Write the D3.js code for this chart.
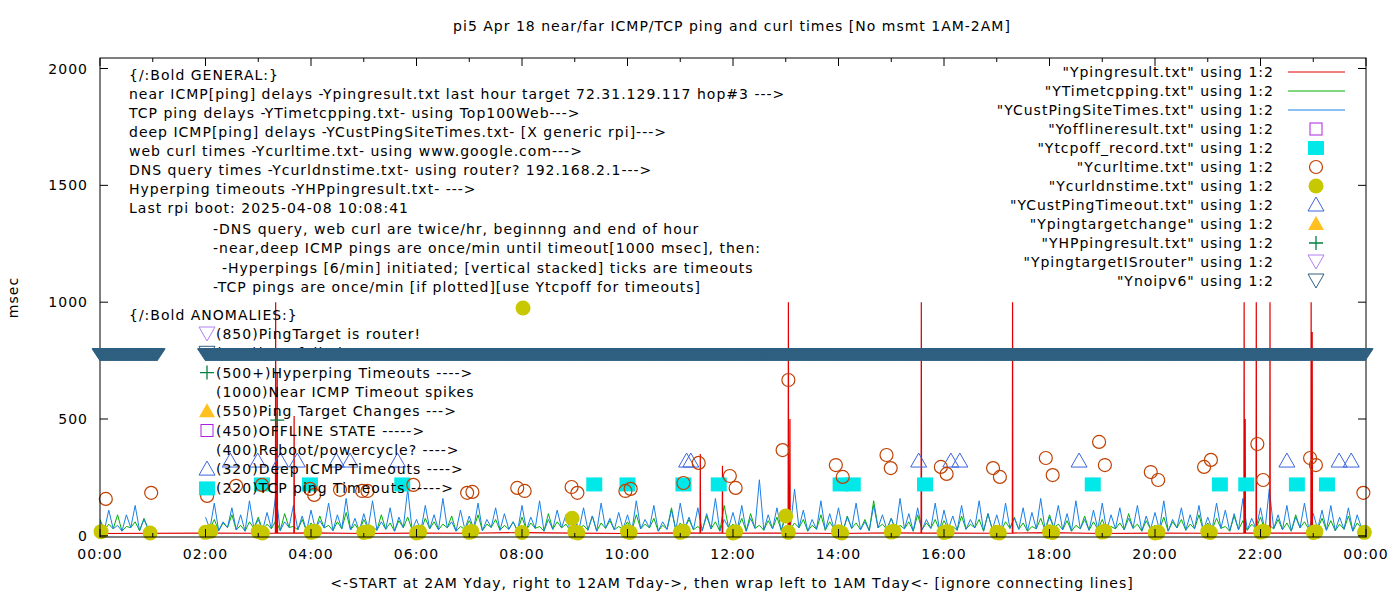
<!DOCTYPE html>
<html>
<head>
<meta charset="utf-8">
<script src="https://cdn.jsdelivr.net/npm/d3@7"></script>
<style>
  body { margin: 0; background: #fff; }
  text { font-family: "DejaVu Sans", sans-serif; font-size: 14px; letter-spacing: 1px; fill: #000; }
</style>
</head>
<body>
<div id="chart"></div>
<script>
// Data (hours of day, msec)
const blueVals = [
  60,110,45,90,130,70, null,null,null,null,null,null,
  80,140,60,120,90,150, 70,100,180,60,130,85,
  110,65,140,90,160,75, 95,150,60,120,80,200,
  70,130,90,160,60,110, 85,140,70,120,95,60,
  130,80,150,70,110,90, 60,120,85,140,75,100,
  90,150,70,130,60,110, 140,80,120,95,160,70,
  100,130,75,240,90,120, 85,200,110,70,150,95,
  120,80,140,60,130,90, 75,160,95,120,70,140,
  110,85,130,70,150,95, 90,140,75,120,100,160,
  80,130,95,150,70,110, 140,90,120,75,130,85,
  100,150,70,120,90,130, 80,140,110,95,160,75,
  120,200,90,130,80,140, 95,110,130,80,120,90
];
const blueLows = [
  25,30,20,35,22,28, null,null,null,null,null,null,
  30,22,35,25,20,32, 24,30,22,36,26,20,
  28,34,22,30,25,20, 32,24,28,20,35,26,
  22,30,26,34,20,28, 30,22,36,24,28,20,
  26,32,20,28,34,22, 30,24,20,32,26,28,
  22,30,34,20,28,24, 32,26,22,30,20,34,
  28,20,32,24,30,22, 26,34,20,28,24,30,
  20,32,26,22,34,28, 24,30,20,26,32,22,
  30,24,28,34,20,26, 22,32,28,20,30,24,
  34,26,20,30,24,28, 22,30,26,32,20,28,
  26,20,34,24,30,22, 28,32,20,26,24,30,
  22,30,26,20,34,28, 30,24,22,28,20,32
];
const greenVals = [
  70,50,90,40,60,75, null,null,null,null,null,null,
  40,70,55,90,45,60, 80,50,65,95,40,70,
  55,85,45,60,100,50, 70,40,90,55,65,80,
  45,75,60,50,85,40, 65,90,50,70,45,60,
  80,55,40,95,60,50, 70,45,85,55,65,40,
  60,90,50,75,45,120, 55,70,40,85,60,130,
  50,75,95,45,65,80, 100,55,70,45,90,60,
  40,85,55,70,150,50, 75,45,60,90,55,70,
  65,40,85,50,70,95, 45,60,80,55,40,75,
  90,50,65,45,85,60, 70,40,55,95,50,65,
  45,80,60,70,50,90, 55,75,40,85,65,50,
  80,45,70,55,90,60, 40,75,65,50,85,55
];
const redVals = [10,null,12,11,13,10,12,11,14,12,10,13,11,12,10,13,12,11,14,10,12,11,13,12];
const redSpikes = [
  [3.33, 1000], [3.36, 700], [3.68, 513], [11.38, 350], [11.8, 300],
  [13.05, 1000], [13.08, 500], [15.57, 1000], [17.3, 1000],
  [21.69, 1000], [21.71, 500], [21.92, 1000], [22.18, 1000],
  [22.96, 1000], [22.98, 872]
];
const curlTimes = [
  [0.11,158],[0.97,184],[2.03,171],[2.58,214],[3.07,218],[3.98,201],[4.06,175],
  [4.55,197],[4.97,192],[5.07,192],[5.94,218],[6.96,184],[7.06,188],[7.91,205],
  [8.05,192],[8.94,209],[9.05,184],[9.96,192],[10.06,201],[11.06,226],[11.35,312],
  [11.94,256],[12.05,205],[12.94,367],[13.05,667],[13.95,303],[14.08,252],[14.91,346],
  [14.99,290],[15.94,295],[16.05,265],[16.93,290],[17.06,252],[17.93,333],[18.06,260],
  [18.94,402],[19.05,303],[19.92,273],[20.06,239],[20.93,295],[21.06,325],[21.94,393],
  [22.05,239],[22.94,333],[23.05,303],[23.95,184]
];
const dnsTimes = [
  [0.02,18],[0.95,12],[2.0,15],[2.1,20],[3.0,18],[3.08,12],[4.0,15],[4.07,20],
  [5.0,14],[5.08,18],[6.0,12],[6.06,16],[7.0,15],[7.05,19],[8.0,14],[8.02,975],
  [8.95,75],[9.0,16],[9.06,12],[10.0,18],[10.05,14],[11.0,15],[11.06,20],[12.0,12],
  [12.05,17],[13.0,85],[13.05,15],[14.0,18],[14.06,12],[15.0,16],[15.05,20],[16.0,14],
  [16.06,18],[17.0,15],[17.05,12],[18.0,17],[18.06,14],[19.0,16],[19.05,20],[20.0,12],
  [20.06,15],[21.0,18],[21.05,14],[22.0,16],[22.06,20],[23.0,14],[23.05,18],[23.97,15]
];
const tcpOff = [3.07,3.98,5.73,9.37,10.0,11.06,11.73,14.04,14.27,15.64,18.82,21.23,21.73,22.69,23.26];
const tcpOffValue = 220;
const custTimeouts = [2.47,2.99,3.42,3.74,4.48,4.74,5.64,11.12,11.2,15.52,16.13,16.3,18.56,22.5,23.49,23.72];
const custTimeoutValue = 320;
const hyperping = [[3.36, 495]];
const noIpv6Ranges = [[0, 1.1], [2.0, 24]];
const noIpv6Value = 775;
const xTicks = [0,2,4,6,8,10,12,14,16,18,20,22,24];
const yTicks = [0,500,1000,1500,2000];

const legendItems = [
  ['"Ypingresult.txt" using 1:2', "line", "#e00000"],
  ['"YTimetcpping.txt" using 1:2', "line", "#00b000"],
  ['"YCustPingSiteTimes.txt" using 1:2', "line", "#1a7fe6"],
  ['"Yofflineresult.txt" using 1:2', "square", "#b020e0"],
  ['"Ytcpoff_record.txt" using 1:2', "fsquare", "#00e8e8"],
  ['"Ycurltime.txt" using 1:2', "circle", "#c04000"],
  ['"Ycurldnstime.txt" using 1:2', "fcircle", "#c8c800"],
  ['"YCustPingTimeout.txt" using 1:2', "tri", "#3c64dc"],
  ['"Ypingtargetchange" using 1:2', "ftri", "#ffc020"],
  ['"YHPpingresult.txt" using 1:2', "plus", "#008040"],
  ['"YpingtargetISrouter" using 1:2', "dtri", "#b080f0"],
  ['"Ynoipv6" using 1:2', "dtri", "#306080"]
];
const generalText = [
  [0, "{/:Bold GENERAL:}"],
  [0, "near ICMP[ping] delays -Ypingresult.txt last hour target 72.31.129.117 hop#3 --->"],
  [0, "TCP ping delays -YTimetcpping.txt- using Top100Web--->"],
  [0, "deep ICMP[ping] delays -YCustPingSiteTimes.txt- [X generic rpi]--->"],
  [0, "web curl times -Ycurltime.txt- using www.google.com--->"],
  [0, "DNS query times -Ycurldnstime.txt- using router? 192.168.2.1--->"],
  [0, "Hyperping timeouts -YHPpingresult.txt- --->"],
  [0, "Last rpi boot: 2025-04-08 10:08:41"],
  [1, "-DNS query, web curl are twice/hr, beginnng and end of hour"],
  [1, "-near,deep ICMP pings are once/min until timeout[1000 msec], then:"],
  [2, "-Hyperpings [6/min] initiated; [vertical stacked] ticks are timeouts"],
  [1, "-TCP pings are once/min [if plotted][use Ytcpoff for timeouts]"]
];
const anomalyText = [
  ["dtri", "#b080f0", "(850)PingTarget is router!"],
  ["dtri", "#306080", "(785)ipv6 failed --------->"],
  ["plus", "#008040", "(500+)Hyperping Timeouts ---->"],
  [null, null, "(1000)Near ICMP Timeout spikes"],
  ["ftri", "#ffc020", "(550)Ping Target Changes --->"],
  ["square", "#b020e0", "(450)OFFLINE STATE ----->"],
  [null, null, "(400)Reboot/powercycle? ---->"],
  ["tri", "#3c64dc", "(320)Deep ICMP Timeouts ---->"],
  ["fsquare", "#00e8e8", "(220)TCP ping Timeouts ----->"]
];

const width = 1400, height = 600;
const m = { left: 100, right: 34, top: 58, bottom: 63 };
const svg = d3.select("#chart").append("svg").attr("width", width).attr("height", height);

const x = d3.scaleLinear().domain([0, 24]).range([m.left, width - m.right]);
const y = d3.scaleLinear().domain([-5, 2045]).range([height - m.bottom, m.top]);

function symbol(g, kind, color, cx, cy) {
  const s = g.append("g").attr("transform", `translate(${cx},${cy})`);
  if (kind === "square") s.append("rect").attr("x", -6).attr("y", -6).attr("width", 12).attr("height", 12).attr("fill", "none").attr("stroke", color);
  if (kind === "fsquare") s.append("rect").attr("x", -8).attr("y", -7).attr("width", 16).attr("height", 14).attr("fill", color);
  if (kind === "circle") s.append("circle").attr("r", 6.5).attr("fill", "none").attr("stroke", color).attr("stroke-width", 1.2);
  if (kind === "fcircle") s.append("circle").attr("r", 7.5).attr("fill", color);
  if (kind === "tri") s.append("path").attr("d", "M0,-8L8,6L-8,6Z").attr("fill", "none").attr("stroke", color);
  if (kind === "ftri") s.append("path").attr("d", "M0,-8L8,6L-8,6Z").attr("fill", color);
  if (kind === "dtri") s.append("path").attr("d", "M0,7L8,-7L-8,-7Z").attr("fill", "none").attr("stroke", color);
  if (kind === "plus") s.append("path").attr("d", "M-7,0H7M0,-7V7").attr("stroke", color).attr("stroke-width", 1.3);
}

const plot = svg.append("g");
// each 10-minute slot: a peak then a low reading
const series = (vals, step) => vals.map((v, i) => [i * step, v]);
const zig = (hi, lo, step) => hi.flatMap((v, i) => [[i * step, v], [i * step + step / 2, lo[i]]]);
const line = d3.line().defined(d => d[1] != null).x(d => x(d[0])).y(d => y(d[1]));

const redPts = series(redVals, 1).concat(
  redSpikes.flatMap(([h, v]) => [[h - 0.005, 12], [h, v], [h + 0.005, 12]])
).filter(d => d[1] != null).sort((a, b) => a[0] - b[0]);

plot.append("path").datum(zig(greenVals, blueLows, 1 / 6)).attr("d", line)
  .attr("fill", "none").attr("stroke", "#00b000").attr("stroke-width", 1);
plot.append("path").datum(zig(blueVals, blueLows, 1 / 6)).attr("d", line)
  .attr("fill", "none").attr("stroke", "#1a7fe6").attr("stroke-width", 1);
plot.append("path").datum(redPts).attr("d", line)
  .attr("fill", "none").attr("stroke", "#e00000").attr("stroke-width", 1.2);

tcpOff.forEach(h => symbol(plot, "fsquare", "#00e8e8", x(h), y(tcpOffValue)));
custTimeouts.forEach(h => symbol(plot, "tri", "#3c64dc", x(h), y(custTimeoutValue)));
curlTimes.forEach(([h, v]) => symbol(plot, "circle", "#c04000", x(h), y(v)));
dnsTimes.forEach(([h, v]) => symbol(plot, "fcircle", "#c8c800", x(h), y(v)));
hyperping.forEach(([h, v]) => symbol(plot, "plus", "#008040", x(h), y(v)));

// frame & axes
const x0 = x(0), x1 = x(24), y0 = y.range()[0], y1 = y.range()[1];
svg.append("rect").attr("x", x0).attr("y", y1).attr("width", x1 - x0).attr("height", y0 - y1)
  .attr("fill", "none").attr("stroke", "#000");
const ax = svg.append("g").attr("stroke", "#000");
d3.range(0, 25, 1).forEach(h => {
  const len = h % 2 === 0 ? 8 : 4;
  ax.append("line").attr("x1", x(h)).attr("x2", x(h)).attr("y1", y0).attr("y2", y0 - len);
  ax.append("line").attr("x1", x(h)).attr("x2", x(h)).attr("y1", y1).attr("y2", y1 + len);
});
yTicks.forEach(v => {
  ax.append("line").attr("x1", x0).attr("x2", x0 + 8).attr("y1", y(v)).attr("y2", y(v));
  ax.append("line").attr("x1", x1).attr("x2", x1 - 8).attr("y1", y(v)).attr("y2", y(v));
});
xTicks.forEach(h => svg.append("text").attr("x", x(h)).attr("y", y0 + 22).attr("text-anchor", "middle")
  .text(d3.format("02")(h % 24) + ":00"));
yTicks.forEach(v => svg.append("text").attr("x", x0 - 12).attr("y", y(v) + 5).attr("text-anchor", "end").text(v));

svg.append("text").attr("x", 732).attr("y", 31).attr("text-anchor", "middle")
  .text("pi5 Apr 18  near/far ICMP/TCP ping and curl times [No msmt 1AM-2AM]");
svg.append("text").attr("x", 732).attr("y", 588).attr("text-anchor", "middle")
  .text("<-START at 2AM Yday, right to 12AM Tday->, then wrap left to 1AM Tday<- [ignore connecting lines]");
svg.append("text").attr("transform", `translate(18,${(y0 + y1) / 2}) rotate(-90)`).attr("text-anchor", "middle").text("msec");

// legend
legendItems.forEach(([label, kind, color], i) => {
  const ly = 72 + i * 19;
  svg.append("text").attr("x", 1274).attr("y", ly + 5).attr("text-anchor", "end").text(label);
  if (kind === "line") svg.append("line").attr("x1", 1288).attr("x2", 1345).attr("y1", ly).attr("y2", ly).attr("stroke", color);
  else symbol(svg, kind, color, 1316, ly);
});

// annotations
const indents = [129, 213, 222];
generalText.forEach(([ind, t], i) => {
  const ty = i < 8 ? 80 + i * 19 : 234 + (i - 8) * 19.3;
  svg.append("text").attr("x", indents[ind]).attr("y", ty).text(t);
});
svg.append("text").attr("x", 129).attr("y", 320).text("{/:Bold ANOMALIES:}");
anomalyText.forEach(([kind, color, t], i) => {
  const ty = 334 + i * 19.3;
  if (kind) symbol(svg, kind, color, 207, ty);
  svg.append("text").attr("x", 216).attr("y", ty + 5).text(t);
});
// ipv6 band: one marker per minute, drawn above the annotation it hides
noIpv6Ranges.forEach(([a, b]) => {
  d3.range(a, b, 1 / 60).forEach(h => {
    svg.append("path").attr("transform", `translate(${x(h)},${y(noIpv6Value)})`)
      .attr("d", "M0,6L8,-6L-8,-6Z").attr("fill", "#306080").attr("stroke", "#306080");
  });
});
</script>
</body>
</html>
